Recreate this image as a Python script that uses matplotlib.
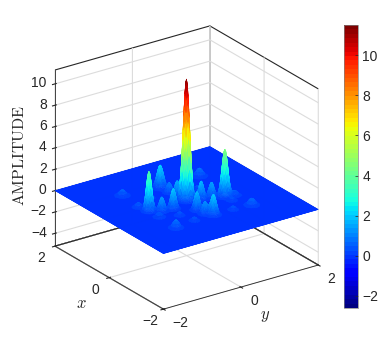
#!/usr/bin/env python3
"""Amplitude surface over (x, y) with a jet colorbar, saved as out.png."""
import numpy as np
import matplotlib
matplotlib.use('Agg')
import matplotlib.pyplot as plt
from mpl_toolkits.mplot3d import Axes3D  # noqa: F401

# peaks: centre, height, width
PEAK_X = [-0.02, -0.34, -0.04, 0.82, -0.99, 0.84, -0.18, -0.22, 0.20, 0.50, -0.25, -0.20,
          -0.58, -0.84, -1.08, 0.94, -1.03, -0.42, -0.42, 0.25, 0.50, -1.00, -0.60, 0.30,
          -0.60, -1.00, 0.50]
PEAK_Y = [-0.02, 0.75, -1.00, -0.11, 0.00, 0.92, 0.25, 0.49, -0.11, -0.10, -0.52, -0.78,
          -0.14, -0.12, -1.03, -1.00, 0.96, 0.96, -1.00, -1.07, -0.60, -0.50, 0.75, 0.50,
          -0.60, 0.50, 0.40]
PEAK_H = [11.4, 4.5, 3.8, 2.2, 2.0, 0.8, 1.8, 1.5, 1.6, 1.0, 2.0, 1.4,
          1.8, 1.2, 0.8, 0.6, 0.7, 0.5, 0.5, 0.5, 0.4, 0.4, 0.4, 0.4,
          0.4, 0.4, 0.4]
PEAK_W = [0.07, 0.066, 0.06, 0.072, 0.066, 0.077, 0.06, 0.06, 0.06, 0.06, 0.06, 0.06,
          0.06, 0.06, 0.072, 0.077, 0.077, 0.066, 0.066, 0.066, 0.06, 0.06, 0.06, 0.06,
          0.06, 0.06, 0.06]
XY_TICKS = [-2, 0, 2]
Z_TICKS = [-4, -2, 0, 2, 4, 6, 8, 10]
CBAR_TICKS = [-2, 0, 2, 4, 6, 8, 10]
Z_BOTTOM = -5.2
Z_TOP = 11.3
TEXT_COLOR = '#262626'

plt.rcParams['font.family'] = ['Liberation Sans', 'DejaVu Sans']
plt.rcParams['mathtext.fontset'] = 'cm'
plt.rcParams['axes.linewidth'] = 0.6

x = np.linspace(-2, 2, 241)
y = np.linspace(-2, 2, 241)
X, Y = np.meshgrid(x, y)
Z = np.zeros_like(X)
for px, py, ph, pw in zip(PEAK_X, PEAK_Y, PEAK_H, PEAK_W):
    Z += ph * np.exp(-((X - px) ** 2 + (Y - py) ** 2) / (2 * pw ** 2))

fig = plt.figure(figsize=(3.89, 3.47), dpi=100)
ax = fig.add_axes([0.008, 0.014, 0.92, 0.98], projection='3d')
ax.set_proj_type('ortho')
ax.view_init(elev=24, azim=-35)
ax.set_box_aspect((1, 1, 1.02), zoom=0.941)

surf = ax.plot_surface(X, Y, Z, cmap=plt.get_cmap('jet', 64), vmin=-2.6, vmax=11.5,
                       rstride=1, cstride=1, linewidth=0.3, antialiased=True)
surf.set_edgecolor('face')

ax.set_xticks(XY_TICKS)
ax.set_yticks(XY_TICKS)
ax.set_zticks(Z_TICKS)
ax.tick_params(labelsize=10, colors=TEXT_COLOR, pad=3, length=2)
ax.tick_params(axis='z', pad=-4)
ax.zaxis.set_ticks_position('lower')
ax.zaxis.set_label_position('lower')

for axis in (ax.xaxis, ax.yaxis, ax.zaxis):
    axis.set_pane_color((1, 1, 1, 1))
    axis.pane.set_edgecolor('#262626')
    axis.pane.set_linewidth(0.8)
    axis.line.set_color('#262626')
    axis._axinfo['grid']['color'] = '#dcdcdc'
    axis._axinfo['grid']['linewidth'] = 0.8

# labels sit closer to the ticks than mplot3d's default alignment
for t in ax.get_xticklabels():
    t.set_va('bottom')
for t in ax.get_yticklabels():
    t.set_va('bottom')
    t.set_ha('left')
for t in ax.get_zticklabels():
    t.set_va('center')
    t.set_ha('right')

# floor edges go back over the light grid lines that share their position
ax.plot([2, 2], [-2, 2], [Z_BOTTOM, Z_BOTTOM], color='#262626', lw=0.8, zorder=0)
ax.plot([2, -2], [2, 2], [Z_BOTTOM, Z_BOTTOM], color='#262626', lw=0.8, zorder=0)
ax.set_xlim(2, -2)
ax.set_ylim(-2, 2)
ax.set_zlim(Z_BOTTOM, Z_TOP)

ax.set_zlabel(r'$\mathrm{AMPLITUDE}$', fontsize=11.5, labelpad=-4, color=TEXT_COLOR)
fig.text(81 / 389, 1 - 303 / 347, r'$x$', fontsize=12, ha='center', va='center', color=TEXT_COLOR)
fig.text(265 / 389, 1 - 316 / 347, r'$y$', fontsize=12, ha='center', va='center', color=TEXT_COLOR)

cax = fig.add_axes([344 / 389, 1 - 308 / 347, 14 / 389, 283 / 347])
cb = fig.colorbar(surf, cax=cax, ticks=CBAR_TICKS)
cb.ax.tick_params(labelsize=10, colors=TEXT_COLOR, length=2, width=0.5, pad=3, direction='in')
cb.outline.set_edgecolor('#808080')
cb.outline.set_linewidth(0.5)

fig.savefig('out.png', dpi=100)
